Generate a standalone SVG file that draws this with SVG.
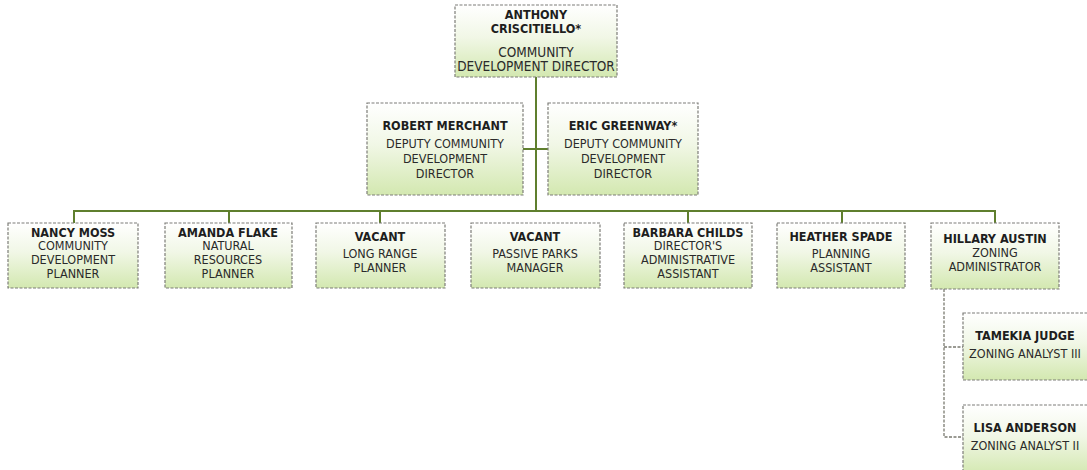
<svg xmlns="http://www.w3.org/2000/svg" width="1087" height="470" viewBox="0 0 1087 470">
  <defs>
    <linearGradient id="boxFill" x1="0" y1="0" x2="0" y2="1">
      <stop offset="0" stop-color="#ffffff"/>
      <stop offset="0.45" stop-color="#f1f7e6"/>
      <stop offset="1" stop-color="#d3e8b0"/>
    </linearGradient>
  </defs>
  <style>
    .box { fill: url(#boxFill); stroke: #7d7d78; stroke-width: 1.2; stroke-dasharray: 3 1.5; }
    .name { font-family: "DejaVu Sans Condensed", "DejaVu Sans", sans-serif; font-weight: bold; font-size: 12.5px; fill: #1e1e1e; text-anchor: middle; }
    .title { font-family: "DejaVu Sans Condensed", "DejaVu Sans", sans-serif; font-size: 12.5px; fill: #2a2a2a; text-anchor: middle; }
    .title-lg { font-size: 13.5px; }
    .wire { fill: none; stroke: #5f7f2e; stroke-width: 2; }
    .wire-thin { fill: none; stroke: #7a7a70; stroke-width: 1.3; stroke-dasharray: 3 1.5; }
  </style>
  <rect width="1087" height="470" fill="#ffffff"/>

  <!-- reporting lines -->
  <g id="connectors">
    <path class="wire" d="M536 77 V211"/>
    <path class="wire" d="M523 149 H548"/>
    <path class="wire" d="M74 223 V211 H995 V223"/>
    <path class="wire" d="M229 211 V223"/>
    <path class="wire" d="M380 211 V223"/>
    <path class="wire" d="M688 211 V223"/>
    <path class="wire" d="M842 211 V223"/>
    <path class="wire-thin" d="M944 289 V437 H963"/>
    <path class="wire-thin" d="M944 347 H963"/>
  </g>

  <g id="node-criscitiello">
    <rect class="box" x="455" y="5" width="162" height="72"/>
    <text class="name" x="536" y="19">ANTHONY</text>
    <text class="name" x="536" y="33">CRISCITIELLO*</text>
    <text class="title title-lg" x="536" y="57">COMMUNITY</text>
    <text class="title title-lg" x="536" y="71">DEVELOPMENT DIRECTOR</text>
  </g>

  <g id="node-merchant">
    <rect class="box" x="367" y="103" width="156" height="92"/>
    <text class="name" x="445" y="130">ROBERT MERCHANT</text>
    <text class="title" x="445" y="148">DEPUTY COMMUNITY</text>
    <text class="title" x="445" y="163">DEVELOPMENT</text>
    <text class="title" x="445" y="178">DIRECTOR</text>
  </g>

  <g id="node-greenway">
    <rect class="box" x="548" y="103" width="150" height="92"/>
    <text class="name" x="623" y="130">ERIC GREENWAY*</text>
    <text class="title" x="623" y="148">DEPUTY COMMUNITY</text>
    <text class="title" x="623" y="163">DEVELOPMENT</text>
    <text class="title" x="623" y="178">DIRECTOR</text>
  </g>

  <g id="node-moss">
    <rect class="box" x="8" y="223" width="130" height="65"/>
    <text class="name" x="73" y="237">NANCY MOSS</text>
    <text class="title" x="73" y="250">COMMUNITY</text>
    <text class="title" x="73" y="264">DEVELOPMENT</text>
    <text class="title" x="73" y="278">PLANNER</text>
  </g>

  <g id="node-flake">
    <rect class="box" x="165" y="223" width="127" height="65"/>
    <text class="name" x="228" y="237">AMANDA FLAKE</text>
    <text class="title" x="228" y="250">NATURAL</text>
    <text class="title" x="228" y="264">RESOURCES</text>
    <text class="title" x="228" y="278">PLANNER</text>
  </g>

  <g id="node-vacant-planner">
    <rect class="box" x="316" y="223" width="129" height="65"/>
    <text class="name" x="380" y="241">VACANT</text>
    <text class="title" x="380" y="258">LONG RANGE</text>
    <text class="title" x="380" y="272">PLANNER</text>
  </g>

  <g id="node-vacant-parks">
    <rect class="box" x="471" y="223" width="129" height="65"/>
    <text class="name" x="535" y="241">VACANT</text>
    <text class="title" x="535" y="258">PASSIVE PARKS</text>
    <text class="title" x="535" y="272">MANAGER</text>
  </g>

  <g id="node-childs">
    <rect class="box" x="624" y="223" width="128" height="65"/>
    <text class="name" x="688" y="237">BARBARA CHILDS</text>
    <text class="title" x="688" y="250">DIRECTOR'S</text>
    <text class="title" x="688" y="264">ADMINISTRATIVE</text>
    <text class="title" x="688" y="278">ASSISTANT</text>
  </g>

  <g id="node-spade">
    <rect class="box" x="777" y="223" width="128" height="65"/>
    <text class="name" x="841" y="241">HEATHER SPADE</text>
    <text class="title" x="841" y="258">PLANNING</text>
    <text class="title" x="841" y="272">ASSISTANT</text>
  </g>

  <g id="node-austin">
    <rect class="box" x="931" y="223" width="128" height="66"/>
    <text class="name" x="995" y="243">HILLARY AUSTIN</text>
    <text class="title" x="995" y="257">ZONING</text>
    <text class="title" x="995" y="271">ADMINISTRATOR</text>
  </g>

  <g id="node-judge">
    <rect class="box" x="963" y="313" width="130" height="67"/>
    <text class="name" x="1025" y="340">TAMEKIA JUDGE</text>
    <text class="title" x="1025" y="358">ZONING ANALYST III</text>
  </g>

  <g id="node-anderson">
    <rect class="box" x="963" y="405" width="130" height="70"/>
    <text class="name" x="1025" y="432">LISA ANDERSON</text>
    <text class="title" x="1025" y="450">ZONING ANALYST II</text>
  </g>
</svg>
